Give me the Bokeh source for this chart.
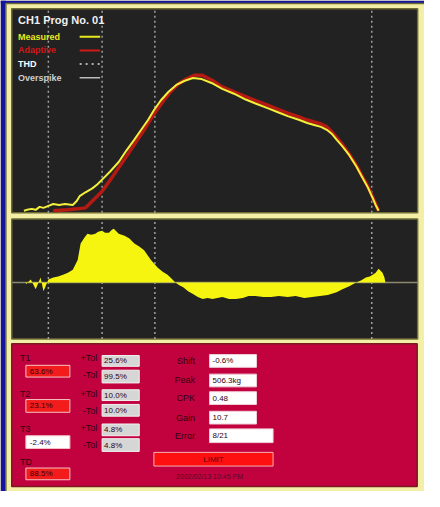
from bokeh.plotting import figure
from bokeh.models import Range1d
from bokeh.core.properties import value
from bokeh.embed import file_html
from bokeh.resources import INLINE

# ---------------- data ----------------
# Measured force curve (time ms, force kg)
meas_t = [12, 15, 20, 24, 28, 32, 37, 42, 48, 54, 62, 66, 69, 75, 82, 87, 92, 100, 109, 117,
          125, 132, 139, 145, 152, 160, 168, 176, 185, 194, 204, 215, 227, 239, 249, 262, 272,
          282, 294, 302, 309, 316, 322, 327, 332, 338, 345, 352, 359, 364, 369, 372, 375]
meas_f = [0, 3.7, 7.4, 3.7, 14.9, 11.2, 18.6, 26.0, 22.3, 26.0, 22.3, 37.2, 55.8, 70.7, 85.6,
          100.4, 119.0, 148.8, 186.0, 230.6, 271.6, 308.8, 346.0, 383.2, 420.4, 453.8, 479.9,
          494.8, 506.3, 502.2, 487.3, 465.0, 446.4, 424.1, 409.2, 390.6, 375.7, 360.8, 346.0,
          334.8, 327.4, 319.9, 308.8, 293.9, 271.6, 245.5, 212.0, 171.1, 122.8, 89.3, 48.4,
          22.3, 0]
# Adaptive (reference) curve
adap_t = [42, 57, 67, 75, 82, 87, 92, 102, 115, 125, 135, 145, 155, 162, 170, 178, 187, 194,
          204, 215, 227, 239, 249, 262, 272, 282, 294, 302, 309, 316, 322, 327, 332, 338, 345,
          352, 359, 364, 369, 372, 375]
adap_f = [0, 3.7, 7.4, 11.2, 37.2, 55.8, 74.4, 126.5, 197.2, 253.0, 308.8, 368.3, 420.4,
          453.8, 483.6, 502.2, 517.1, 517.1, 498.5, 472.4, 453.8, 435.2, 420.4, 401.8, 386.9,
          372.0, 357.1, 346.0, 338.5, 331.1, 319.9, 301.3, 279.0, 253.0, 215.8, 174.8, 126.5,
          93.0, 52.1, 26.0, 0]
# Deviation curve (lower panel)
dev_t = [14, 19, 24, 29, 32, 37, 42, 47, 52, 57, 62, 67, 70, 74, 77, 81, 85, 88, 92, 95, 99,
         102, 104, 107, 109, 112, 115, 120, 125, 130, 135, 142, 149, 154, 159, 163, 167, 171,
         175, 180, 185, 190, 195, 200, 205, 210, 215, 222, 229, 236, 242, 249, 257, 265, 273,
         282, 290, 299, 307, 315, 323, 332, 338, 345, 352, 357, 362, 366, 369, 372, 375, 377,
         379, 381, 382]
dev_v = [-2, 3, -7, 5, -9, 3, 5, 6, 8, 10, 13, 23, 40, 46, 50, 49, 50, 52, 53, 51, 51, 54,
         55, 52, 50, 49, 48, 45, 40, 37, 33, 23, 15, 11, 8, 4, 0, -3, -5, -9, -12, -15, -17,
         -16, -17, -16, -15, -17, -17, -16, -14, -14, -15, -15, -14, -15, -14, -16, -15, -14,
         -13, -10, -7, -4, 0, 2, 5, 6, 8, 10, 14, 12, 10, 5, 0]
marker_t = [37, 92, 146, 368]

force_range = (-7.4, 770)
dev_range = (-58, 65)
time_range = (0, 415)

title_text = "CH1 Prog No. 01"
legend_names = ["Measured", "Adaptive", "THD", "Overspike"]
legend_colors = ["#E8E81E", "#D01818", "#FFFFFF", "#CFCFCF"]

t_labels = ["T1", "T2", "T3", "TD"]
t_values = ["63.6%", "23.1%", "-2.4%", "88.5%"]
t_box_colors = ["#F21C1C", "#F21C1C", "#FFFFFF", "#F21C1C"]
tol_labels = ["+Tol", "-Tol", "+Tol", "-Tol", "+Tol", "-Tol"]
tol_values = ["25.6%", "99.5%", "10.0%", "10.0%", "4.8%", "4.8%"]
stat_labels = ["Shift", "Peak", "CPK", "Gain", "Error"]
stat_values = ["-0.6%", "506.3kg", "0.48", "10.7", "8/21"]
status_text = "LIMIT"
date_text = "2002/02/13 10:45 PM"

# ---------------- layout helpers ----------------
W, H = 424, 491


def X(r):
    return (r - 6) * W / 434.0


def Y(r):
    return (r - 5) * H / 502.0


def xr(d0, d1, a, b):
    s = (d1 - d0) / (b - a)
    return Range1d(d0 - a * s, d0 + (W - a) * s)


def yr(d0, d1, pb, pt):
    s = (d1 - d0) / (pb - pt)
    return Range1d(d0 - (H - pb) * s, d1 + pt * s)


FONT = value("Liberation Sans")
CREAM = "#F3EFA6"
OLIVE = "#6E6C34"
BLUE = "#14149E"
DARK = "#222222"
CRIMSON = "#C2023F"
INK = "#33000F"

p = figure(width=W, height=H, x_range=Range1d(0, W), y_range=Range1d(H, 0),
           output_backend="svg", toolbar_location=None, min_border=0,
           x_axis_type=None, y_axis_type=None)
p.grid.visible = False
p.outline_line_color = None
p.background_fill_color = CREAM
p.border_fill_color = CREAM

p.extra_x_ranges = {"t": xr(time_range[0], time_range[1], X(18), X(433))}
p.extra_y_ranges = {"f": yr(force_range[0], force_range[1], Y(222), Y(13.5)),
                    "d": yr(dev_range[0], dev_range[1], Y(351), Y(228.5))}

# frame decoration
p.quad(left=[0], right=[W], top=[0], bottom=[Y(8)], fill_color=BLUE, line_color=None)
p.quad(left=[0], right=[X(11.5)], top=[0], bottom=[H], fill_color=BLUE, line_color=None)
p.quad(left=[X(11.5)], right=[W + 2], top=[Y(8)], bottom=[H + 2], fill_color=CREAM,
       line_color=OLIVE, line_width=1.5)
p.quad(left=[X(17.5)] * 2, right=[X(433)] * 2, top=[Y(13.5), Y(228.5)], bottom=[Y(222), Y(351)],
       fill_color=DARK, line_color=OLIVE, line_width=1.5)
p.quad(left=[X(17.5)], right=[X(432.5)], top=[Y(356)], bottom=[Y(502)],
       fill_color=CRIMSON, line_color="#7A1A20", line_width=1.5)

# marker lines
p.segment(x0=marker_t, x1=marker_t, y0=[force_range[0]] * 4, y1=[force_range[1]] * 4,
          x_range_name="t", y_range_name="f", line_color="#A0A0A0", line_width=1.5,
          line_dash="2 3")
p.segment(x0=marker_t, x1=marker_t, y0=[dev_range[0]] * 4, y1=[dev_range[1]] * 4,
          x_range_name="t", y_range_name="d", line_color="#A0A0A0", line_width=1.5,
          line_dash="2 3")

# curves
p.line(adap_t, adap_f, x_range_name="t", y_range_name="f", line_color="#B41A12",
       line_width=3.5)
p.line(meas_t, meas_f, x_range_name="t", y_range_name="f", line_color="#F2F03A",
       line_width=2)

# deviation
p.segment(x0=[time_range[0]], x1=[time_range[1]], y0=[0], y1=[0], x_range_name="t",
          y_range_name="d", line_color="#8A8A70", line_width=1.5)
p.varea(x=dev_t, y1=[0] * len(dev_t), y2=dev_v, x_range_name="t", y_range_name="d",
        fill_color="#F5F510")

# top legend
p.text(x=[X(24)], y=[Y(25)], text=[title_text], text_font=FONT, text_font_size="11px",
       text_font_style="bold", text_color="#F0F0F0", text_baseline="middle")
leg_y = [Y(42), Y(56), Y(70), Y(84)]
p.text(x=[X(24)] * 4, y=leg_y, text=legend_names, text_font=FONT, text_font_size="9px",
       text_font_style="bold", text_color=legend_colors, text_baseline="middle")
p.segment(x0=[X(87)] * 2, x1=[X(108)] * 2, y0=leg_y[:2], y1=leg_y[:2],
          line_color=legend_colors[:2], line_width=2)
p.segment(x0=[X(87)], x1=[X(108)], y0=[leg_y[2]], y1=[leg_y[2]], line_color="#E0E0E0",
          line_width=1.5, line_dash="2 4")
p.segment(x0=[X(87)], x1=[X(108)], y0=[leg_y[3]], y1=[leg_y[3]], line_color="#BDBDBD",
          line_width=1.5)

# bottom panel: T rows
t_lab_y = [Y(370), Y(407), Y(443), Y(477)]
t_box = [(378, 390), (413, 426), (450, 463), (483, 495)]
p.text(x=[X(26)] * 4, y=t_lab_y, text=t_labels, text_font=FONT, text_font_size="9px",
       text_color=INK, text_baseline="middle")
p.quad(left=[X(32)] * 4, right=[X(77)] * 4, top=[Y(a) for a, b in t_box],
       bottom=[Y(b) for a, b in t_box], fill_color=t_box_colors, line_color="#F6C4C4",
       line_width=1)
p.text(x=[X(36)] * 4, y=[Y((a + b) / 2) for a, b in t_box], text=t_values, text_font=FONT,
       text_font_size="8px", text_color=INK, text_baseline="middle")

tol_y = [370, 388, 407, 425, 442, 459]
tol_box = [(368, 379), (383, 396), (403, 414), (418, 430), (438, 450), (453, 466)]
p.text(x=[X(105)] * 6, y=[Y(v) for v in tol_y], text=tol_labels, text_font=FONT,
       text_font_size="9px", text_color=INK, text_align="right", text_baseline="middle")
p.quad(left=[X(110)] * 6, right=[X(148)] * 6, top=[Y(a) for a, b in tol_box],
       bottom=[Y(b) for a, b in tol_box], fill_color="#D6D6D6", line_color="#F2F2F2",
       line_width=1)
p.text(x=[X(112)] * 6, y=[Y((a + b) / 2) for a, b in tol_box], text=tol_values,
       text_font=FONT, text_font_size="8px", text_color=INK, text_baseline="middle")

# bottom panel: statistics
stat_box = [(367, 380), (387, 400), (405, 418), (425, 438), (443, 457)]
stat_right = [268, 268, 268, 268, 285]
p.text(x=[X(205)] * 5, y=[Y((a + b) / 2) for a, b in stat_box], text=stat_labels,
       text_font=FONT, text_font_size="9px", text_color=INK, text_align="right",
       text_baseline="middle")
p.quad(left=[X(220)] * 5, right=[X(r) for r in stat_right], top=[Y(a) for a, b in stat_box],
       bottom=[Y(b) for a, b in stat_box], fill_color="#FFFFFF", line_color="#F0D0D8",
       line_width=1)
p.text(x=[X(223)] * 5, y=[Y((a + b) / 2) for a, b in stat_box], text=stat_values,
       text_font=FONT, text_font_size="8px", text_color=INK, text_baseline="middle")

p.quad(left=[X(163)], right=[X(285)], top=[Y(467)], bottom=[Y(481)], fill_color="#FF1010",
       line_color="#F6B0B0", line_width=1)
p.text(x=[X(224)], y=[Y(474)], text=[status_text], text_font=FONT, text_font_size="8px",
       text_color="#5A0010", text_align="center", text_baseline="middle")
p.text(x=[X(220)], y=[Y(492)], text=[date_text], text_font=FONT, text_font_size="7px",
       text_color="#5A0A25", text_align="center", text_baseline="middle")

open("out.html", "w").write(file_html(p, INLINE))
